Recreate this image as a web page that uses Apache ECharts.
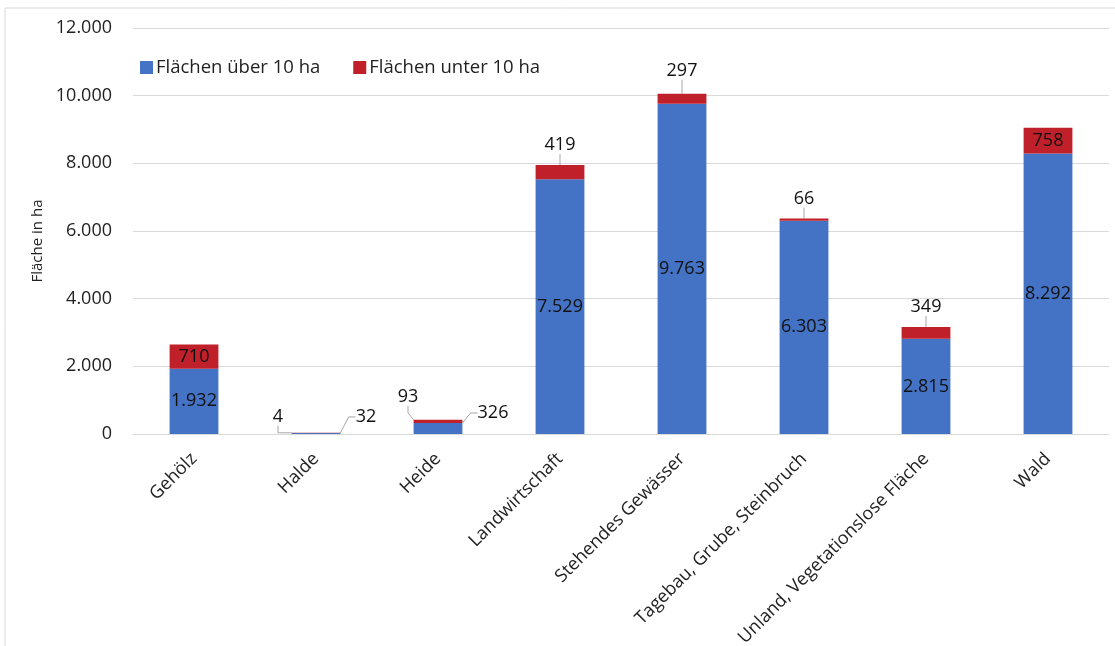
<!DOCTYPE html>
<html><head><meta charset="utf-8">
<script src="https://cdn.jsdelivr.net/npm/echarts@6/dist/echarts.min.js"></script>
<style>html,body{margin:0;padding:0;background:#fff}#c{width:1115px;height:646px}</style>
</head><body><div id="c"></div>
<script>
const categories = ['Gehölz','Halde','Heide','Landwirtschaft','Stehendes Gewässer','Tagebau, Grube, Steinbruch','Unland, Vegetationslose Fläche','Wald'];
const over10 = [1932, 32, 326, 7529, 9763, 6303, 2815, 8292];
const under10 = [710, 4, 93, 419, 297, 66, 349, 758];
const seriesNames = ['Flächen über 10 ha', 'Flächen unter 10 ha'];
const yTicks = [0, 2000, 4000, 6000, 8000, 10000, 12000];

const FONT = '"Open Sans", sans-serif';
const fmt = v => String(v).replace(/\B(?=(\d{3})+(?!\d))/g, '.');

// label placement per bar (blue: inside except tiny bars; red: inside / above / side)
const blueLabelMode = ['inside','side','side','inside','inside','inside','inside','inside'];
const redLabelMode  = ['inside','left','left','above','above','above','above','inside'];

const blueShift = { 1: {dx: 50, dy: -2}, 2: {dx: 55, dy: 4} };
const redShift  = { 1: {dx: -38, dy: -2}, 2: {dx: -30, dy: -9}, 3: {dy: -6}, 4: {dy: -9}, 5: {dy: -6}, 6: {dy: -6} };

const chart = echarts.init(document.getElementById('c'), null, {renderer: 'canvas'});
const labelBase = {fontFamily: FONT, fontSize: 18, color: '#111'};

function mkData(vals, modes) {
  return vals.map((v, i) => {
    const m = modes[i];
    if (m === 'inside') return {value: v, label: {show: true, position: 'inside'}};
    return {value: v, label: {show: true, position: 'top', distance: 5}};
  });
}

chart.setOption({
  animation: false,
  textStyle: {fontFamily: FONT},
  graphic: [{type: 'rect', shape: {x: 5, y: 8, width: 1300, height: 800}, style: {fill: 'none', stroke: '#d9d9d9', lineWidth: 1}}],
  legend: {
    left: 135, top: 53, itemWidth: 13, itemHeight: 13, itemGap: 33,
    icon: 'rect',
    textStyle: {fontFamily: FONT, fontSize: 18.5, color: '#222', padding: [0,0,0,-2]},
    data: seriesNames
  },
  grid: {left: 133, right: 6, top: 28, bottom: 212, outerBoundsMode: 'none', containLabel: false},
  xAxis: {
    type: 'category', data: categories,
    axisLine: {lineStyle: {color: '#d9d9d9', width: 1}},
    axisTick: {show: false},
    axisLabel: {rotate: 45, interval: 0, fontFamily: FONT, fontSize: 18, color: '#222', margin: 22}
  },
  yAxis: {
    type: 'value', min: 0, max: 12000, interval: 2000,
    name: 'Fläche in ha', nameLocation: 'middle', nameGap: 88,
    nameTextStyle: {fontFamily: FONT, fontSize: 15, color: '#222', padding: [0, 20, 0, 0]},
    axisLine: {show: false}, axisTick: {show: false},
    axisLabel: {fontFamily: FONT, fontSize: 18, color: '#222', margin: 21, formatter: v => yTicks.includes(v) ? fmt(v) : ''},
    splitLine: {lineStyle: {color: '#d9d9d9', width: 1}}
  },
  series: [
    {
      name: seriesNames[0], type: 'bar', stack: 'a', barWidth: '40%',
      itemStyle: {color: '#4472C4'},
      label: Object.assign({formatter: p => fmt(p.value)}, labelBase),
      labelLine: {show: true, lineStyle: {color: '#a6a6a6', width: 1}, length2: 7},
      labelLayout: p => blueShift[p.dataIndex] || {},
      data: mkData(over10, blueLabelMode)
    },
    {
      name: seriesNames[1], type: 'bar', stack: 'a', barWidth: '40%',
      itemStyle: {color: '#C0202A'},
      label: Object.assign({formatter: p => fmt(p.value)}, labelBase),
      labelLine: {show: true, lineStyle: {color: '#a6a6a6', width: 1}, length2: 7},
      labelLayout: p => redShift[p.dataIndex] || {},
      data: mkData(under10, redLabelMode)
    }
  ]
});
</script></body></html>
